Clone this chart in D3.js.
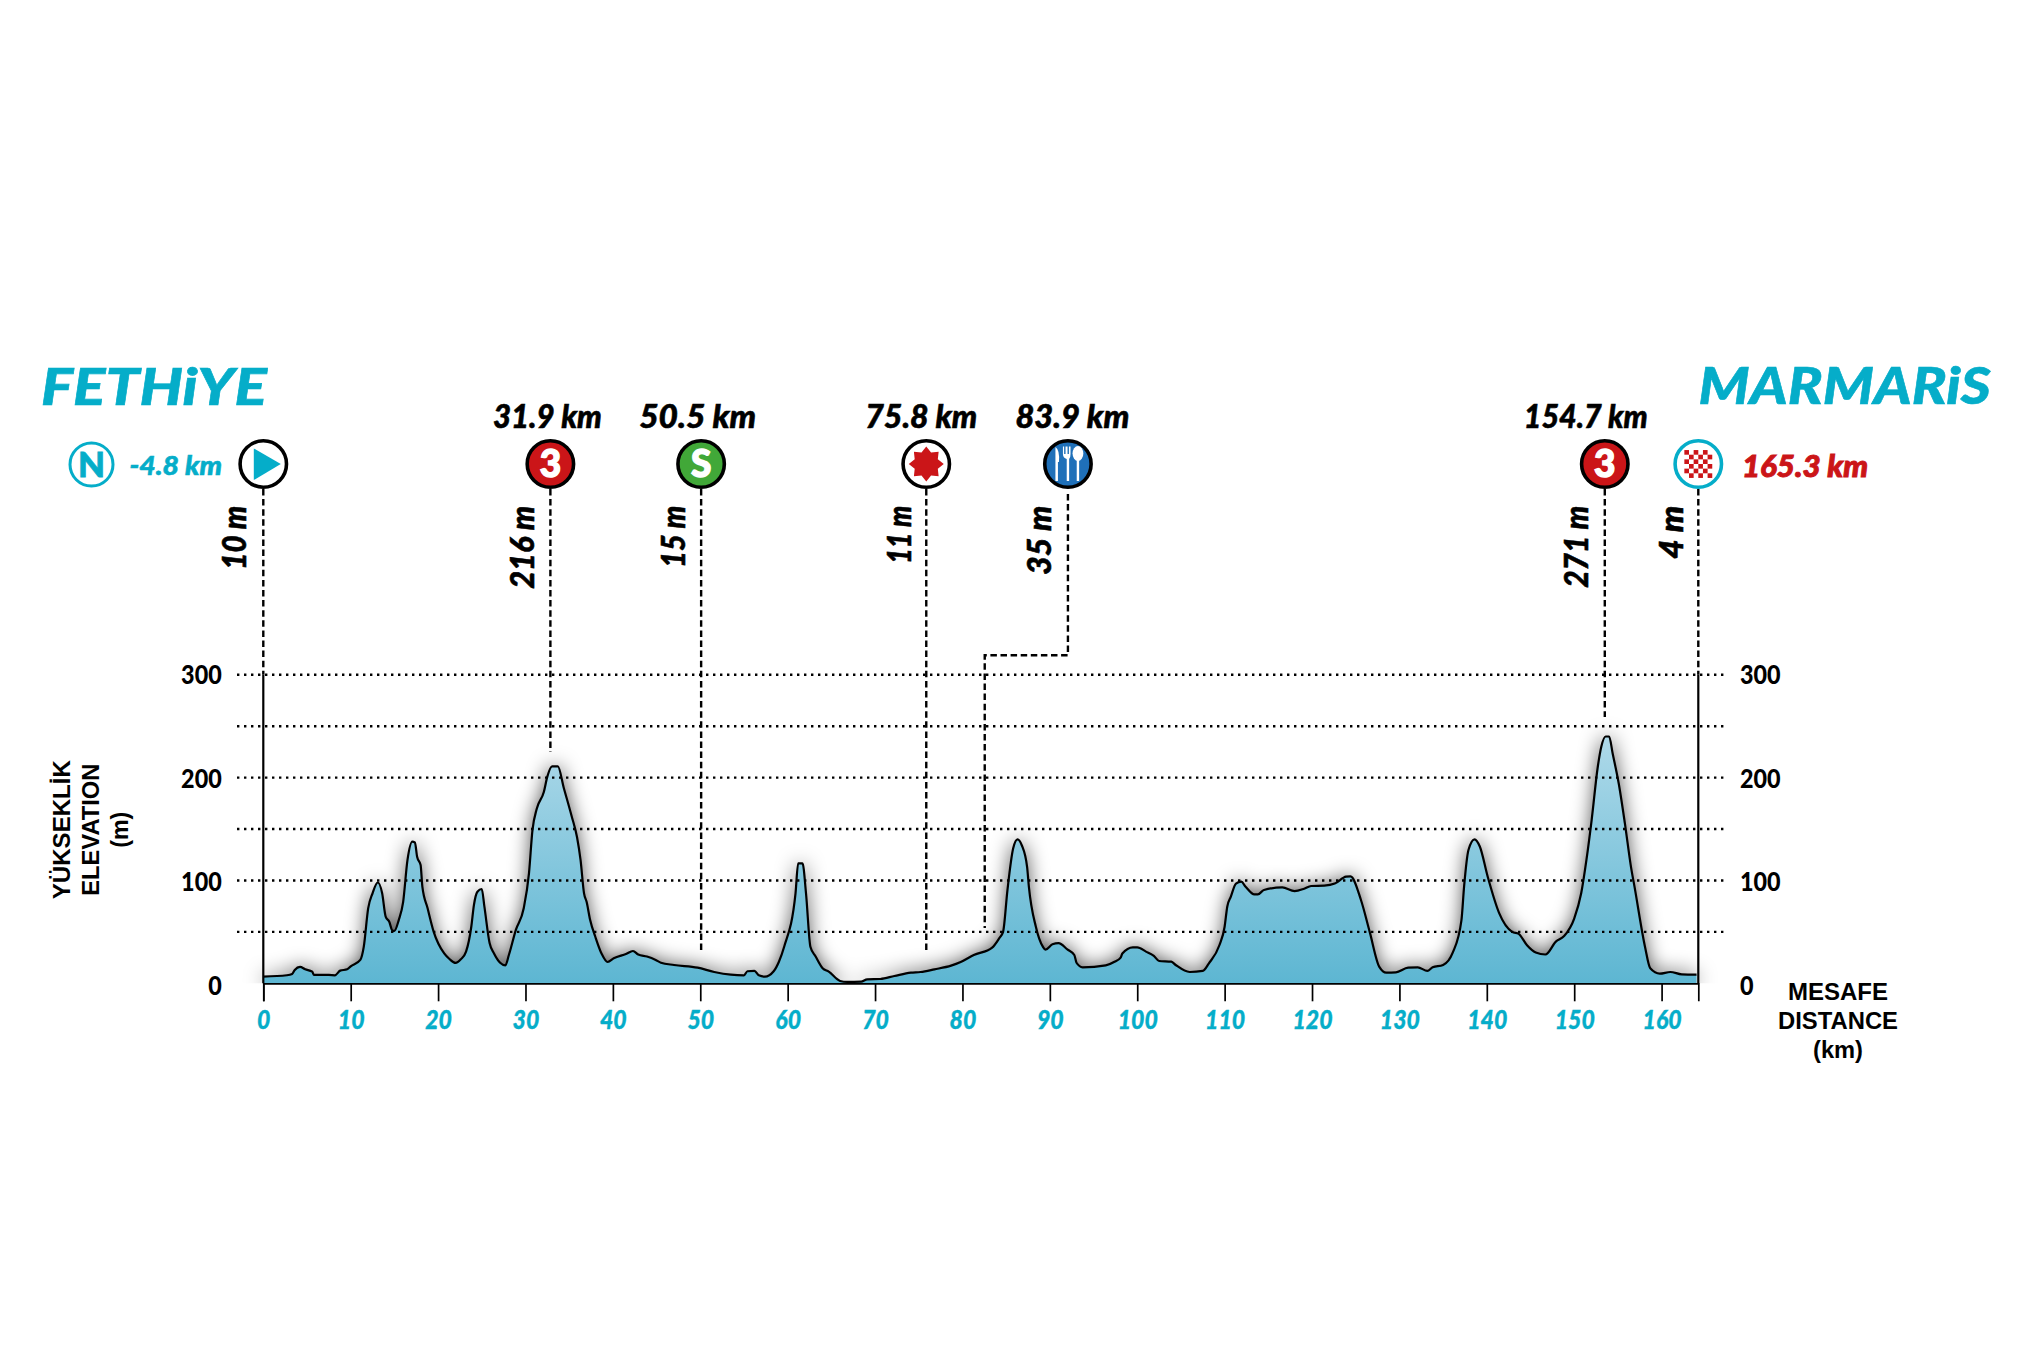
<!DOCTYPE html>
<html>
<head>
<meta charset="utf-8">
<script src="https://cdnjs.cloudflare.com/ajax/libs/d3/7.8.5/d3.min.js"></script>
<style>
    body { margin: 0; background: #fff; }
    text { font-family: Lato, "Open Sans", sans-serif; }
    .heavy { font-weight: 900; font-style: italic; }
    .title { font-family: "Liberation Sans", sans-serif; font-weight: 700; }
</style>
</head>
<body>
<div id="main"></div>
<script>
// elevation profile
const profileKm = [0,2.7,3.3,3.6,4.2,4.8,5.6,5.8,7.5,8.2,8.8,9.6,10,11.1,11.5,12,12.5,13.1,13.6,14,14.4,14.8,15,15.5,16,16.5,17.05,17.35,17.6,18,18.2,18.8,19.5,20.7,21.3,22,22.6,23.2,23.8,24.1,24.5,25,25.3,25.9,26.4,27.1,27.7,28.1,28.9,29.8,30.4,30.8,31.3,32.1,32.5,33.05,33.7,34.4,35.3,35.9,36.3,36.7,37,37.4,38,38.7,39.4,40.1,41.5,42.3,42.9,43.9,44.9,45.5,47,49.7,51.6,53.5,55,55.4,56.2,56.7,57.4,58.4,59,59.6,60.9,61.2,61.7,62.1,62.6,63.2,64,64.7,66,66.8,68.4,69.1,70.6,72.2,74.1,75.2,76.8,78.7,79.8,81.3,83.4,84.2,84.65,85.15,85.8,86.3,86.8,87.4,87.6,88.4,89.2,89.5,90.3,91,92,92.8,93.05,93.75,96.4,97.4,98.1,98.3,99.5,100,101,101.9,102.5,103.9,104.4,106,107.5,108.2,109.4,110,110.3,110.7,111.3,111.9,112.4,113.4,113.8,114.5,116.6,118,119.1,119.9,121.4,122.6,123.9,124.4,125.6,126.6,127.7,128.5,129.6,131,132.1,133.2,133.8,135,136.1,137.1,137.4,137.9,138.6,139.2,140.1,141.4,142.9,143.65,144.6,145.6,146.7,147.9,148.85,150,150.8,151.4,152,152.7,153.1,153.6,154,154.4,155.1,155.8,156.5,156.9,158.1,158.7,159.8,161,162.3,164];
const profileElev = [6.5,7.8,9,13,15.9,13.6,11.3,8.1,8.1,7.8,12.3,13.6,16.5,22.7,35.6,72.9,87.5,98,87.5,64.8,60,51,51,61.5,79,120,137.7,137,123,115,94,73,50,29,23.6,19.8,23.3,30.8,55,76,89,91.7,74.5,38.9,29,20,17.5,27.5,52,73,107,149,170,186,201,211,211,189.5,162,142,120,87.5,79,61.5,45,29,20.7,24.3,28.5,31.4,28,26,22.7,20,17.8,15.2,11,8.4,7.8,11.7,12,7.8,6.5,11.7,21,35.6,87.5,116.6,116.6,87.5,35.6,26,14.6,11.3,2.3,1.3,1.6,3.9,4.2,7.1,10.4,11,13.6,17.2,20.7,27.5,34.7,43.7,50,90.7,131,140,134,113,94,55,35.6,32.7,38,39,33,27.5,20,15.5,17.5,21,25,29,35,35,30.8,26.6,21.7,21,17.8,11,12,19.4,37,55,74.5,84,97,98.8,94,86.5,86.5,90.7,93.3,89.7,92,94.6,95,97,103.7,104,81,50,16,10.4,10.7,15.2,15.5,12,15.5,17.8,29.8,61.5,94,129.6,140,133,103.7,68.5,50,48,37,30,28,40.5,46,63,87.5,120,159,210.6,230,240,240,223.5,194,155.5,113,94,35.6,14.6,9.4,11,8.7,8.4];

const xTicks = d3.range(0, 161, 10);
const yLabels = [0, 100, 200, 300];
const gridLevels = [50, 100, 150, 200, 250, 300];

// route markers
const markerKinds = ["start", "climb", "sprint", "star", "feed", "climb", "finish"];
const markerPosKm = [0, 32.85, 50.1, 75.86, 92.07, 153.5, 164.2];
const markerDist = ["", "31.9 km", "50.5 km", "75.8 km", "83.9 km", "154.7 km", ""];
const markerElev = ["10 m", "216 m", "15 m", "11 m", "35 m", "271 m", "4 m"];
const markerLineEnd = [300, 225, 29, 30.7, 53.7, 259, 300];
const feedElbowKm = 82.55;
const feedElbowElev = 319;

const startName = "FETHiYE";
const finishName = "MARMARiS";
const neutralText = "-4.8 km";
const finishText = "165.3 km";

const ctx = {
    w: 2031,
    h: 1348,
    CYAN: "#05adc9",
    RED: "#cb1518",
    GREEN: "#41a838",
    BLUE: "#1f70b9",
    MARKER_Y: 464,
    MARKER_R: 23.2,
};

const xScale = d3.scaleLinear().domain([0, 164.2]).range([263.3, 1698.3]);
const yScale = d3.scaleLinear().domain([0, 300]).range([983.3, 674.8]);
// the printed numbers sit a little below their lines and are spaced on their own pitch
const yLabelScale = d3.scaleLinear().domain([0, 300]).range([994.8, 684.3]);

// stretch a text to the width it has in the picture
function addText(parent, str, x, y, size, width, cls, fill, anchor){
    const t = parent.append("text")
        .attr("x", x).attr("y", y)
        .attr("font-size", size)
        .attr("class", cls)
        .attr("fill", fill || "#000")
        .attr("text-anchor", anchor || "start")
        .text(str);
    if (width){
        t.attr("textLength", width).attr("lengthAdjust", "spacingAndGlyphs");
    }
    if (cls === "heavy"){
        t.attr("stroke", fill || "#000").attr("stroke-width", 0.6);
    }
    return t;
}

// squeeze axis numbers, the originals are set in a narrower face
function squeeze(sel, factor){
    sel.each(function(){
        d3.select(this)
          .attr("textLength", this.getComputedTextLength() * factor)
          .attr("lengthAdjust", "spacingAndGlyphs");
    });
}

function drawProfile(svg){
    const pts = profileKm.map((km, i) => [km, profileElev[i]]);
    const area = d3.area().x(d => xScale(d[0])).y0(yScale(0)).y1(d => yScale(d[1])).curve(d3.curveMonotoneX);
    const line = d3.line().x(d => xScale(d[0])).y(d => yScale(d[1])).curve(d3.curveMonotoneX);

    const defs = svg.append("defs");
    defs.append("filter").attr("id", "glow")
        .attr("x", "-5%").attr("y", "-30%").attr("width", "110%").attr("height", "160%")
        .append("feGaussianBlur").attr("stdDeviation", 10);
    defs.append("clipPath").attr("id", "aboveAxis")
        .append("rect").attr("x", 0).attr("y", 0).attr("width", ctx.w).attr("height", yScale(0));
    const grad = defs.append("linearGradient").attr("id", "hill")
        .attr("gradientUnits", "userSpaceOnUse")
        .attr("x1", 0).attr("x2", 0).attr("y1", yScale(240)).attr("y2", yScale(0));
    grad.append("stop").attr("offset", 0).attr("stop-color", "#aed9e9");
    grad.append("stop").attr("offset", 1).attr("stop-color", "#5db6d2");

    svg.append("g").attr("clip-path", "url(#aboveAxis)")
        .append("path").datum(pts).attr("d", area)
        .attr("fill", "#000").attr("fill-opacity", 0.7).attr("filter", "url(#glow)");
    svg.append("path").datum(pts).attr("d", area).attr("fill", "url(#hill)");

    // dotted grid goes over the fill
    svg.append("g").selectAll("line").data(gridLevels).enter().append("line")
        .attr("x1", 237).attr("x2", 1725)
        .attr("y1", d => yScale(d)).attr("y2", d => yScale(d))
        .attr("stroke", "#000").attr("stroke-width", 2.4)
        .attr("stroke-dasharray", "2.4 4.6");

    svg.append("path").datum(pts).attr("d", line)
        .attr("fill", "none").attr("stroke", "#000").attr("stroke-width", 2.2)
        .attr("stroke-linejoin", "round");
}

function drawAxes(svg){
    const xAxis = d3.axisBottom(xScale).tickValues(xTicks).tickSize(18).tickPadding(9)
        .tickFormat(d3.format("d"));
    const gx = svg.append("g").attr("transform", `translate(0,${yScale(0)})`).call(xAxis);
    gx.selectAll("path, line").attr("stroke", "#000").attr("stroke-width", 1.7);
    gx.selectAll("text").attr("class", "heavy").attr("font-size", 26.5).attr("font-family", null)
        .attr("fill", ctx.CYAN).attr("stroke", ctx.CYAN).attr("stroke-width", 0.4).attr("dy", "0.72em")
        .call(squeeze, 0.87);

    const yLeft = d3.axisLeft(yLabelScale).tickValues(yLabels).tickSize(0).tickPadding(0);
    const yRight = d3.axisRight(yLabelScale).tickValues(yLabels).tickSize(0).tickPadding(0);
    [[yLeft, 221.7], [yRight, 1740]].forEach(function(a){
        const g = svg.append("g").attr("transform", `translate(${a[1]},-0.5)`).call(a[0]);
        g.select(".domain").remove();
        g.selectAll("text").attr("dy", 0).attr("font-size", 26.5).attr("font-weight", 900)
            .attr("font-family", null).attr("fill", "#000")
            .call(squeeze, 0.88);
    });

    // solid end posts of the profile
    svg.append("g").selectAll("line").data([0, 164.2]).enter().append("line")
        .attr("x1", d => xScale(d)).attr("x2", d => xScale(d))
        .attr("y1", yScale(300)).attr("y2", yScale(0))
        .attr("stroke", "#000").attr("stroke-width", 2.2);

    // axis titles
    const yt = svg.append("g").attr("transform", "translate(0,829.7) rotate(-90)");
    addText(yt, "YÜKSEKLİK", 0, 69.5, 23, 139, "title", "#000", "middle");
    addText(yt, "ELEVATION", 0, 98.5, 23, 132, "title", "#000", "middle");
    addText(yt, "(m)", 0, 128, 23, 36, "title", "#000", "middle");
    addText(svg, "MESAFE", 1838, 1000, 23.5, 100, "title", "#000", "middle");
    addText(svg, "DISTANCE", 1838, 1029, 23.5, 120, "title", "#000", "middle");
    addText(svg, "(km)", 1838, 1058, 23.5, 50, "title", "#000", "middle");
}

function drawLeaders(svg){
    const g = svg.append("g").attr("fill", "none").attr("stroke", "#000")
        .attr("stroke-width", 2.4).attr("stroke-dasharray", "6.5 3.6");
    markerKinds.forEach(function(kind, i){
        const x = xScale(markerPosKm[i]);
        let p = d3.path();
        if (kind === "feed"){
            p.moveTo(x, ctx.MARKER_Y + 30);
            p.lineTo(x, yScale(feedElbowElev));
            p.lineTo(xScale(feedElbowKm), yScale(feedElbowElev));
            p.lineTo(xScale(feedElbowKm), yScale(markerLineEnd[i]));
        } else {
            p.moveTo(x, ctx.MARKER_Y + 25);
            p.lineTo(x, yScale(markerLineEnd[i]));
        }
        g.append("path").attr("d", p.toString());
    });
}

function drawCutlery(g){
    const w = g.append("g").attr("fill", "#fff").attr("stroke", "none");
    // knife
    w.append("path").attr("d", "M-12.5 17 L-12.5 -17 Q-8 -14 -9 -2 L-10 -2 L-10 17 Z");
    // fork
    w.append("path").attr("d", "M-1.2 17 L-1.2 -5 Q-5 -6 -5 -10 L-5 -17.5 L-3.8 -17.5 L-3.8 -10 L-2.4 -10 L-2.4 -17.5 L-0.4 -17.5 L-0.4 -10 L1 -10 L1 -17.5 L2.6 -17.5 L2.6 -10 Q2.6 -6 1.2 -5 L1.2 17 Z");
    // spoon
    w.append("ellipse").attr("cx", 10).attr("cy", -10.5).attr("rx", 5.4).attr("ry", 7.6);
    w.append("rect").attr("x", 8.8).attr("y", -5).attr("width", 2.4).attr("height", 22);
}

function drawMarker(svg, kind, x){
    const g = svg.append("g").attr("transform", `translate(${x},${ctx.MARKER_Y})`);
    const R = ctx.MARKER_R;
    const lay = {
        start: ["#fff", "#000"], climb: [ctx.RED, "#000"], sprint: [ctx.GREEN, "#000"],
        star: ["#fff", "#000"], feed: [ctx.BLUE, "#000"], finish: ["#fff", ctx.CYAN],
    }[kind];
    g.append("circle").attr("r", R).attr("fill", lay[0]).attr("stroke", lay[1]).attr("stroke-width", 3.6);

    if (kind === "start"){
        g.append("path").attr("d", "M-9.5 -15.5 L17.5 0 L-9.5 16 Z").attr("fill", ctx.CYAN);
    } else if (kind === "climb" || kind === "sprint"){
        g.append("text").attr("text-anchor", "middle").attr("y", 13.3)
            .attr("font-size", 37).attr("font-weight", 900).attr("fill", "#fff")
            .attr("stroke", "#fff").attr("stroke-width", 1.4)
            .text(kind === "climb" ? "3" : "S");
    } else if (kind === "star"){
        const rays = d3.range(16).map(i => [i * Math.PI / 8, i % 2 ? 12.5 : 17.5]);
        g.append("path").attr("d", d3.lineRadial().curve(d3.curveLinearClosed)(rays)).attr("fill", ctx.RED);
    } else if (kind === "feed"){
        drawCutlery(g);
    } else if (kind === "finish"){
        const cell = 4.65;
        d3.range(6).forEach(function(r){
            d3.range(6).forEach(function(c){
                if ((r + c) % 2 === 0){
                    g.append("rect").attr("x", -3 * cell + c * cell).attr("y", -3 * cell + r * cell)
                        .attr("width", cell).attr("height", cell).attr("fill", ctx.RED);
                }
            });
        });
    }
}

function drawLabels(svg){
    addText(svg, startName, 41, 405, 52, 226, "heavy", ctx.CYAN);
    addText(svg, finishName, 1698.6, 404, 52, 292, "heavy", ctx.CYAN);

    // neutral start badge
    const n = svg.append("g").attr("transform", "translate(91.5,464.5)");
    n.append("circle").attr("r", 21.5).attr("fill", "#fff").attr("stroke", ctx.CYAN).attr("stroke-width", 3);
    n.append("text").attr("text-anchor", "middle").attr("y", 12.5).attr("font-size", 35)
        .attr("font-weight", 900).attr("fill", ctx.CYAN).attr("stroke", ctx.CYAN).attr("stroke-width", 0.8).text("N");
    addText(svg, neutralText, 129.5, 475, 27, 92.5, "heavy", ctx.CYAN);
    addText(svg, finishText, 1742, 476.7, 31, 126, "heavy", ctx.RED).attr("stroke-width", 1);

    const distDx = [0, -3, -3.5, -5, 4.5, -19, 0];
    const distW = [0, 109, 117, 112, 114, 124, 0];
    const elevDx = [-17, -16.5, -16.5, -15.5, -17, -16.5, -15.5];
    const elevW = [64, 83, 62, 58, 69, 82, 53];
    markerKinds.forEach(function(kind, i){
        const x = xScale(markerPosKm[i]);
        drawMarker(svg, kind, x);
        if (markerDist[i]){
            addText(svg, markerDist[i], x + distDx[i], 427.7, 32, distW[i], "heavy", "#000", "middle");
        }
        const v = svg.append("g").attr("transform", `translate(${x + elevDx[i]},505.7) rotate(-90)`);
        addText(v, markerElev[i], 0, 0, 32, elevW[i], "heavy", "#000", "end");
    });
}

function createViz(){
    const svg = d3.select("#main").append("svg")
        .attr("width", ctx.w).attr("height", ctx.h);
    drawProfile(svg);
    drawLeaders(svg);
    drawAxes(svg);
    drawLabels(svg);
}

createViz();
</script>
</body>
</html>
